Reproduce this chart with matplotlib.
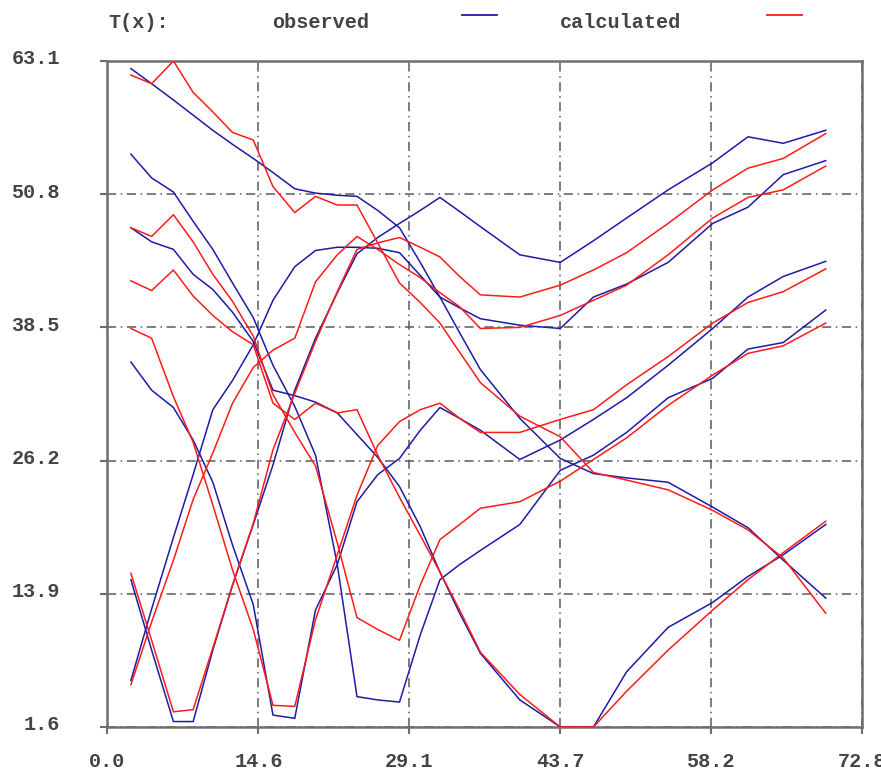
import matplotlib
matplotlib.use("Agg")
from matplotlib import pyplot as plt
from matplotlib.lines import Line2D
import matplotlib.transforms as mtransforms

# Data
x = [2.3, 4.3, 6.4, 8.3, 10.2, 12.1, 14.1, 16.0, 18.1, 20.1, 22.2, 24.1, 26.1,
     28.2, 30.2, 32.1, 34.0, 36.0, 39.8, 43.7, 46.9, 50.1, 54.1, 58.4, 61.8,
     65.2, 69.3]

obs_1 = [62.4, 61.0, 59.5, 58.1, 56.7, 55.4, 54.1, 52.8, 51.3, 50.9, 50.7, 50.6, 49.3,
         47.7, 44.5, 41.3, 38.0, 34.6, 30.1, 26.4, 25.0, 24.6, 24.2, 21.9, 20.0, 17.0, 13.5]
obs_2 = [54.5, 52.3, 51.0, 48.3, 45.7, 42.6, 39.4, 35.0, 31.2, 26.7, 16.6, 4.4, 4.1,
         3.9, 10.1, 15.2, 16.6, 17.9, 20.3, 25.3, 26.7, 28.8, 32.0, 33.8, 36.5, 37.1, 40.1]
obs_3 = [47.7, 46.4, 45.7, 43.4, 42.0, 39.9, 37.2, 32.7, 32.2, 31.6, 30.6, 28.6, 26.5,
         23.8, 20.1, 15.9, 12.1, 8.4, 4.1, 1.6, 1.6, 6.7, 10.8, 13.1, 15.5, 17.5, 20.3]
obs_4 = [35.3, 32.7, 31.1, 28.1, 24.2, 18.4, 12.9, 2.7, 2.4, 12.4, 16.6, 22.4, 24.9,
         26.4, 29.0, 31.1, 30.1, 29.0, 26.3, 28.1, 30.0, 32.0, 35.0, 38.4, 41.3, 43.2, 44.6]
obs_5 = [15.2, 8.7, 2.1, 2.1, 8.7, 14.7, 20.3, 25.8, 32.7, 37.5, 41.7, 45.3, 46.8,
         48.1, 49.3, 50.5, 49.2, 47.8, 45.2, 44.5, 46.5, 48.6, 51.2, 53.7, 56.1, 55.5, 56.7]
obs_6 = [5.9, 12.5, 19.1, 24.9, 30.9, 33.6, 36.9, 41.0, 44.1, 45.6, 45.9, 45.9, 45.8,
         45.4, 43.3, 41.3, 40.3, 39.3, 38.7, 38.4, 41.3, 42.5, 44.5, 48.1, 49.6, 52.6, 53.9]

calc_1 = [61.8, 61.0, 63.1, 60.2, 58.4, 56.5, 55.8, 51.5, 49.1, 50.6, 49.8, 49.8, 46.3,
          42.6, 40.8, 38.9, 36.2, 33.4, 30.3, 28.4, 25.1, 24.4, 23.5, 21.6, 19.8, 17.2, 12.1]
calc_2 = [47.7, 46.9, 48.9, 46.4, 43.4, 40.9, 37.7, 32.3, 28.8, 25.7, 18.6, 11.7, 10.6,
          9.6, 14.7, 18.9, 20.3, 21.8, 22.4, 24.3, 26.3, 28.3, 31.3, 34.1, 36.1, 36.8, 38.9]
calc_3 = [42.8, 41.9, 43.8, 41.4, 39.6, 38.1, 36.9, 31.5, 30.0, 31.5, 30.6, 30.9, 26.7,
          22.8, 19.3, 15.9, 12.4, 8.5, 4.6, 1.6, 1.6, 4.9, 8.7, 12.4, 15.2, 17.7, 20.6]
calc_4 = [38.4, 37.5, 32.1, 27.9, 22.1, 16.1, 10.6, 3.6, 3.5, 11.5, 17.5, 23.0, 27.6,
          29.8, 30.9, 31.5, 30.1, 28.8, 28.8, 30.0, 30.9, 33.2, 35.8, 38.9, 40.8, 41.8, 43.9]
calc_5 = [15.8, 9.6, 3.0, 3.2, 8.9, 14.7, 20.4, 27.2, 32.4, 37.2, 41.8, 45.7, 46.3,
          46.8, 45.9, 45.0, 43.2, 41.5, 41.3, 42.4, 43.8, 45.4, 48.1, 51.2, 53.2, 54.1, 56.4]
calc_6 = [5.5, 11.3, 17.0, 22.6, 26.9, 31.5, 34.8, 36.4, 37.5, 42.7, 45.2, 46.9, 45.7,
          44.3, 43.1, 41.7, 40.4, 38.4, 38.5, 39.6, 41.0, 42.4, 45.2, 48.6, 50.5, 51.2, 53.4]

observed = [obs_1, obs_2, obs_3, obs_4, obs_5, obs_6]
calculated = [calc_1, calc_2, calc_3, calc_4, calc_5, calc_6]

x_ticks = [0.0, 14.6, 29.1, 43.7, 58.2, 72.8]
y_ticks = [1.6, 13.9, 26.2, 38.5, 50.8, 63.1]

# Style
blue = "#1c1ca6"
red = "#ff1a1a"
frame = "#6e6e6e"
txt = "#444444"
font = {"family": "Liberation Mono", "weight": "bold", "size": 14.5}

fig = plt.figure(figsize=(8.81, 7.71), dpi=100)
ax = fig.add_axes([0.1215, 0.0571, 0.8570, 0.8638])

for ys in observed:
    ax.plot(x, ys, color=blue, linewidth=1.1, zorder=3)
for ys in calculated:
    ax.plot(x, ys, color=red, linewidth=1.1, zorder=4)

ax.set_xlim(x_ticks[0], x_ticks[-1])
ax.set_ylim(y_ticks[0], y_ticks[-1])
ax.set_xticks(x_ticks)
ax.set_yticks(y_ticks)
ax.set_xticklabels([f"{v:.1f}" for v in x_ticks], fontdict=font, color=txt)
ax.set_yticklabels([f"{v:.1f}" for v in y_ticks], fontdict=font, color=txt)
ax.tick_params(axis="x", direction="out", length=5, width=1.5, color=frame, pad=13)
ax.tick_params(axis="y", direction="out", length=5, width=1.5, color=frame, pad=29)

# nudge y labels up a little
offset = mtransforms.ScaledTranslation(0, 3 / 72, fig.dpi_scale_trans)
for lab in ax.get_yticklabels():
    lab.set_transform(lab.get_transform() + offset)

ax.grid(True, color="#5a5a5a", linestyle="-.", linewidth=1.1, dashes=(6, 3, 1, 3))
ax.set_axisbelow(True)
for sp in ax.spines.values():
    sp.set_color(frame)
    sp.set_linewidth(1.8)

# Header legend
fig.text(108 / 881, 1 - 23 / 771, "T(x):", fontdict=font, color=txt, va="center", ha="left")
fig.text(272 / 881, 1 - 23 / 771, "observed", fontdict=font, color=txt, va="center", ha="left")
fig.text(560 / 881, 1 - 23 / 771, "calculated", fontdict=font, color=txt, va="center", ha="left")
fig.add_artist(Line2D([462 / 881, 497 / 881], [1 - 15 / 771, 1 - 15 / 771],
                      color=blue, linewidth=1.3, transform=fig.transFigure))
fig.add_artist(Line2D([767 / 881, 802 / 881], [1 - 15 / 771, 1 - 15 / 771],
                      color=red, linewidth=1.3, transform=fig.transFigure))

fig.savefig("out.png", dpi=100)
